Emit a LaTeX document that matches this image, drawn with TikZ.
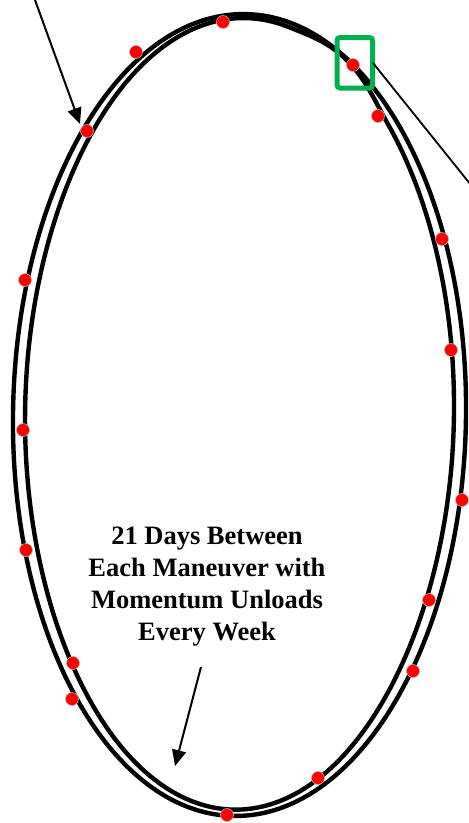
\documentclass[tikz,border=0pt]{standalone}
\usepackage{fontspec}
\setmainfont{Liberation Serif}
\usetikzlibrary{arrows.meta}
\definecolor{boxgreen}{HTML}{00B050}
\begin{document}
\begin{tikzpicture}[x=1pt,y=-1pt,
  declare function={
    sepf(\t) = 9.3 + 3.45*cos(2*\t) - 0.7*cos(4*\t) - 1.15*sin(\t) - 5.4*(max(0,1-((\t-63)/15)^2))^2;
    nrm(\t) = sqrt((4.01*cos(\t))^2 + (2.265*sin(\t))^2);
  },
  orbit/.style={draw=black, line width=4.4pt},
  sat/.style={circle, fill=red, draw=gray!60, line width=0.6pt, minimum size=13pt, inner sep=0pt},
  pointer/.style={draw=black, line width=2pt, -{Triangle[length=16pt,width=14pt]}},
  callout/.style={draw=black, line width=1.8pt},
  hilite/.style={draw=boxgreen, line width=5pt, rounded corners=3pt},
  caption/.style={font=\bfseries\fontsize{26.5}{32}\selectfont, align=center, inner sep=0pt}]
\useasboundingbox (0,0) rectangle (469,823);
\fill[white] (0,0) rectangle (469,823);
\clip (0,0) rectangle (469,823);
% orbits
\begin{scope}[shift={(239.5,415)}, rotate=-0.8]
  \draw[orbit] (0,0) ellipse [x radius=226.5, y radius=401];
  \draw[orbit] plot[domain=0:360, samples=181, smooth, variable=\t]
    ({226.5*cos(\t) - sepf(\t)*4.01*cos(\t)/nrm(\t)},
     {-401*sin(\t) + sepf(\t)*2.265*sin(\t)/nrm(\t)}) -- cycle;
\end{scope}
% maneuver points
\foreach \n/\p in {d1/{(223,22)}, d2/{(136,52)}, d3/{(87,131)}, d4/{(25,280)}, d5/{(23,430)},
  d6/{(26,550)}, d7/{(73,663)}, d8/{(72,699)}, d9/{(227,815)}, d10/{(318,778)},
  d11/{(413,671)}, d12/{(429,600)}, d13/{(462,500)}, d14/{(451,350)}, d15/{(442,239)},
  d16/{(378,116)}, d17/{(353,65)}}
  \node[sat] (\n) at \p {};
% highlight box
\node[hilite, minimum width=35.5pt, minimum height=50.5pt, inner sep=0pt] (hb) at (354.75,62.75) {};
% pointers
\coordinate (p1s) at (35,0);
\coordinate (p1e) at (80,124);
\draw[pointer] (p1s) -- (p1e);
\coordinate (c1s) at (373,63);
\coordinate (c1e) at (479,195);
\draw[callout] (c1s) -- (c1e);
\node[caption] (txt) at (207,587) {21 Days Between\\Each Maneuver with\\Momentum Unloads\\Every Week};
\coordinate (p2s) at (201,667);
\coordinate (p2e) at (175,766);
\draw[pointer] (p2s) -- (p2e);
\end{tikzpicture}
\end{document}
